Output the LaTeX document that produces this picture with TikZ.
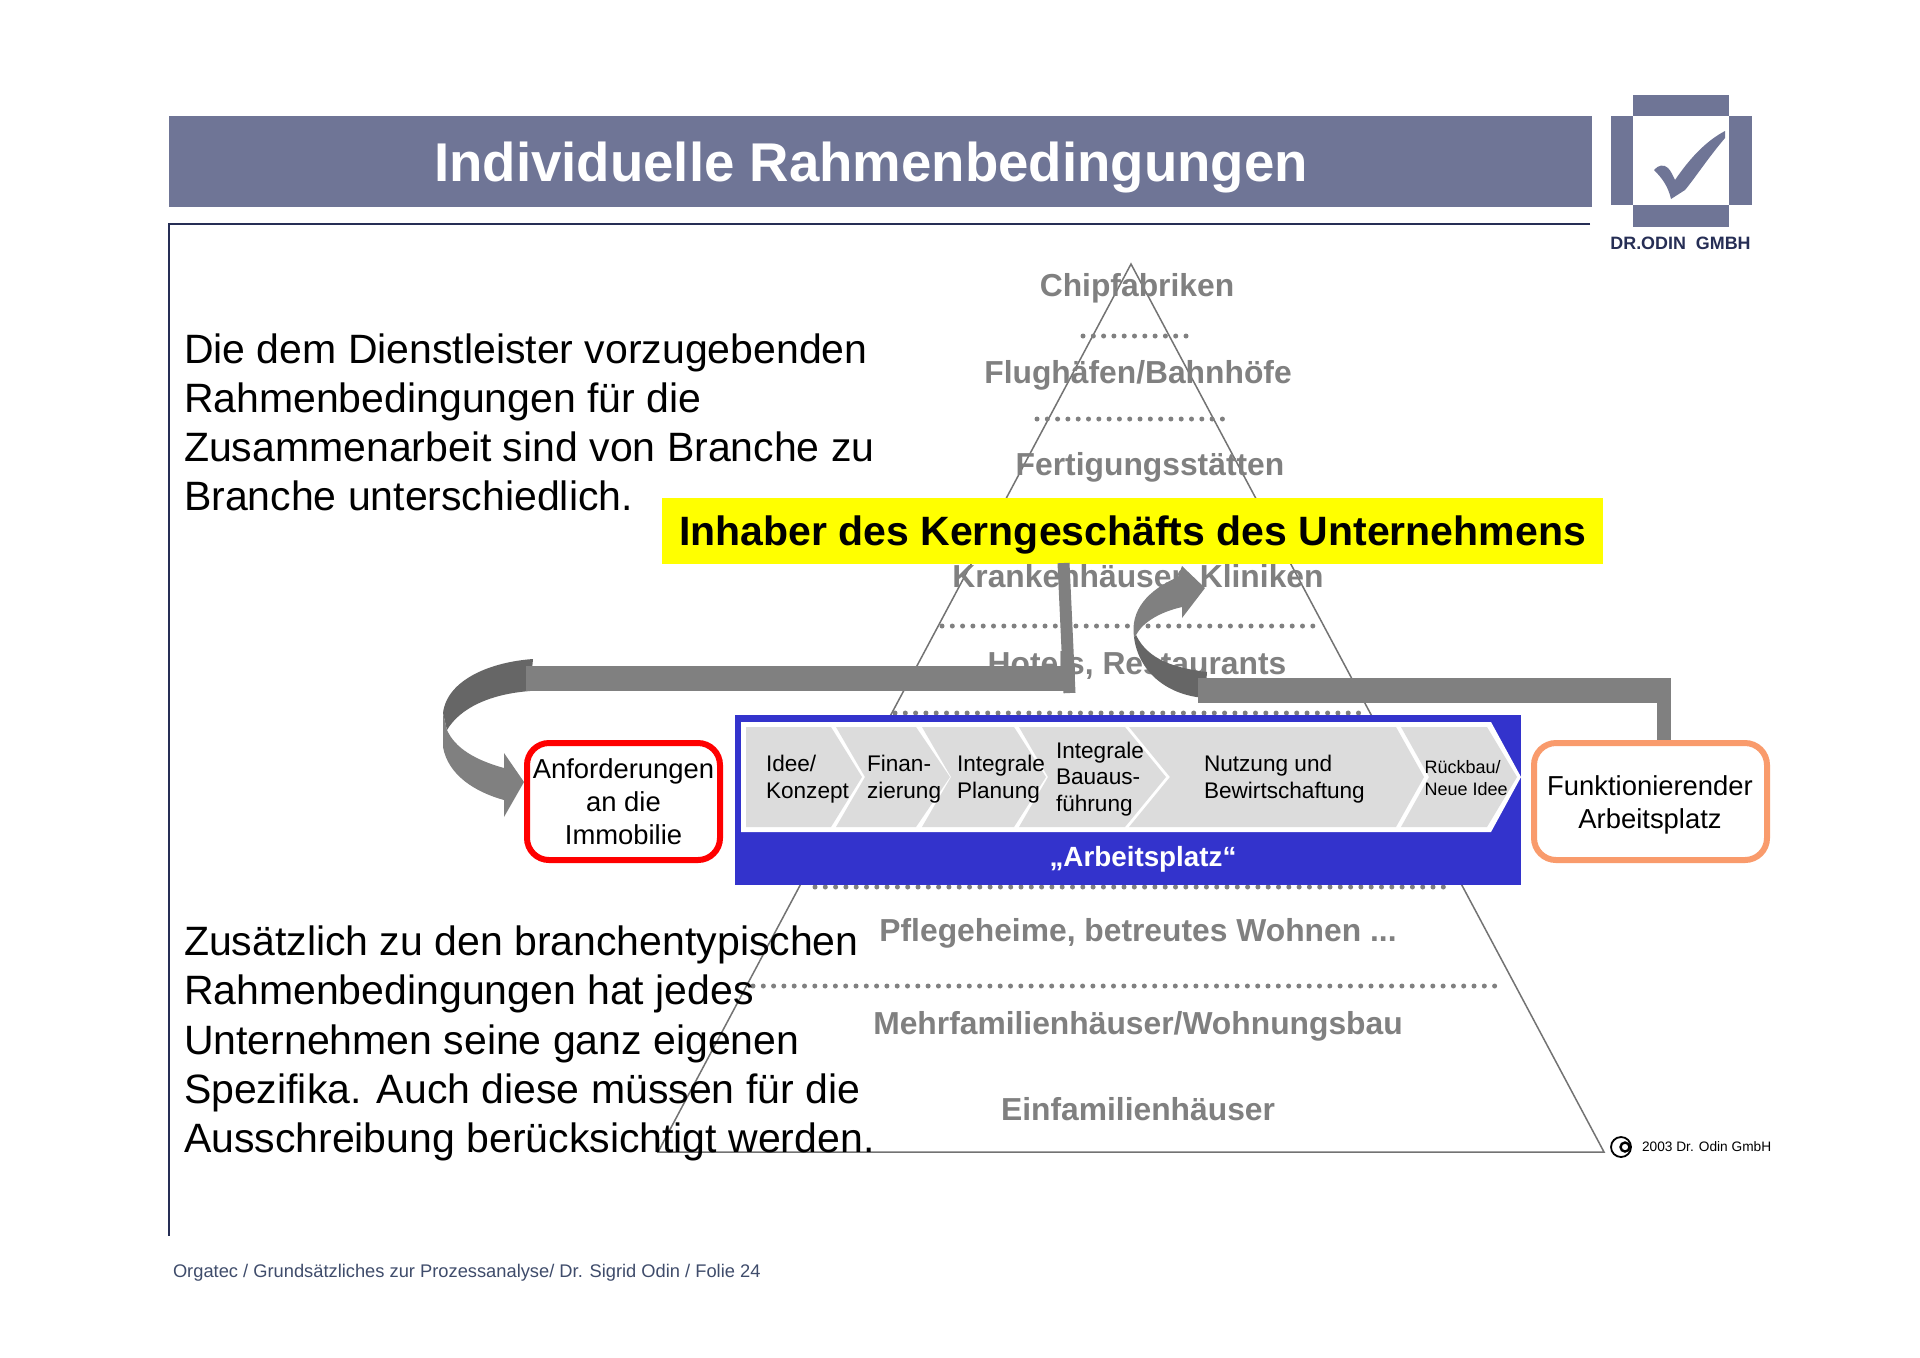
\documentclass[tikz,border=0pt]{standalone}
\usepackage{fontspec}
\setmainfont{Liberation Sans}
\definecolor{slate}{HTML}{6F7596}
\definecolor{navy}{HTML}{262E55}
\definecolor{foot}{HTML}{3F4C6B}
\definecolor{pyr}{HTML}{808080}
\definecolor{barg}{HTML}{808080}
\definecolor{chev}{HTML}{DCDCDC}
\definecolor{bandblue}{HTML}{3333CC}
\definecolor{orangeb}{HTML}{F99B6C}
\definecolor{redb}{HTML}{FF0000}
\definecolor{banner}{HTML}{FFFF00}
\tikzset{
  tx/.style={inner sep=0pt,outer sep=0pt},
  layer/.style={tx,text=pyr,font=\fontsize{15.9pt}{19pt}\bfseries\selectfont,anchor=center},
  para/.style={tx,anchor=west,align=left,font=\fontsize{20.5pt}{24.6pt}\selectfont},
  dots/.style={draw=pyr,line width=2.5pt,line cap=round,dash pattern=on 0pt off 5.15pt},
  chevron/.style={fill=chev,draw=none},
  steptext/.style={tx,anchor=west,align=left,font=\fontsize{11.3pt}{13.4pt}\selectfont},
  reqbox/.style={rounded corners=11pt,line width=3pt,fill=white,minimum width=96.5pt,minimum height=58.5pt,inner sep=0pt,align=center,font=\fontsize{13.7pt}{16.6pt}\selectfont},
  thickbar/.style={draw=barg,line cap=butt,line join=miter},
}
\begin{document}
\begin{tikzpicture}[x=0.5pt,y=-0.5pt]
\useasboundingbox[fill=white] (0,0) rectangle (1920,1357);
% title + frame
\node[fill=slate,minimum width=711.5pt,minimum height=45.5pt,inner sep=0pt,anchor=north west] (title) at (169,116) {};
\node[tx,text=white,font=\fontsize{27.3pt}{32pt}\bfseries\selectfont] (titletext) at (871,167) {Individuelle Rahmenbedingungen};
\coordinate (frameA) at (1590,224);
\coordinate (frameB) at (169,224);
\coordinate (frameC) at (169,1236);
\draw[navy,line width=0.6pt] (frameA)--(frameB)--(frameC);
% logo
\fill[slate] (1633,95) rectangle (1729,116);
\fill[slate] (1633,205) rectangle (1729,227);
\fill[slate] (1611,116) rectangle (1633,205);
\fill[slate] (1729,116) rectangle (1752,205);
\fill[slate] (1725,131) -- (1725,138) .. controls (1708,158) and (1695,178) .. (1685,190) -- (1671,199) .. controls (1668,186) and (1662,178) .. (1654,170) .. controls (1658,165) and (1664,164) .. (1668,168) .. controls (1671,171) and (1673,176) .. (1675,180) .. controls (1690,158) and (1706,141) .. (1725,131) -- cycle;
\node[tx,text=navy,font=\fontsize{8.95pt}{11pt}\bfseries\selectfont] (brand) at (1680.5,243.5) {DR.ODIN\hspace{2.5pt} GMBH};
% pyramid
\coordinate (apex) at (1131,264);
\coordinate (baseL) at (658,1152);
\coordinate (baseR) at (1604,1152);
\draw[draw=pyr!90!black,line width=0.75pt,line join=miter] (apex)--(baseR)--(baseL)--cycle;
\node[layer] (l1) at (1137,288.5) {Chipfabriken};
\node[layer] (l2) at (1138,375.5) {Flughäfen/Bahnhöfe};
\node[layer] (l3) at (1150,467.5) {Fertigungsstätten};
\node[layer] (l4) at (1138,578) {Krankenhäuser, Kliniken};
\node[layer] (l5) at (1137,665) {Hotels, Restaurants};
\node[layer] (l6) at (1138,933) {Pflegeheime, betreutes Wohnen ...};
\node[layer] (l7) at (1138,1026) {Mehrfamilienhäuser/Wohnungsbau};
\node[layer] (l8) at (1138,1109) {Einfamilienhäuser};
\coordinate (d1a) at (1083,336); \coordinate (d1b) at (1190,336);
\coordinate (d2a) at (1037,419); \coordinate (d2b) at (1226,419);
\coordinate (d3a) at (942,626);  \coordinate (d3b) at (1319,626);
\coordinate (d4a) at (895,713);  \coordinate (d4b) at (1366,713);
\coordinate (d5a) at (815,887);  \coordinate (d5b) at (1449,887);
\coordinate (d6a) at (753,986);  \coordinate (d6b) at (1503,986);
\draw[dots] (d1a)--(d1b);
\draw[dots] (d2a)--(d2b);
\draw[dots] (d3a)--(d3b);
\draw[dots] (d4a)--(d4b);
\draw[dots] (d5a)--(d5b);
\draw[dots] (d6a)--(d6b);
% paragraphs
\node[para] (p1) at (184,422.5) {Die dem Dienstleister vorzugebenden\\Rahmenbedingungen für die\\Zusammenarbeit sind von Branche zu\\Branche unterschiedlich.};
\node[para] (p2) at (184,1043.5) {Zusätzlich zu den branchentypischen\\Rahmenbedingungen hat jedes\\Unternehmen seine ganz eigenen\\Spezifika. Auch diese müssen für die\\Ausschreibung berücksichtigt werden.};
% blue band
\node[fill=bandblue,minimum width=393pt,minimum height=85pt,inner sep=0pt,anchor=north west] (band) at (735,715) {};
\fill[white] (741,722)--(1491,722)--(1521,777)--(1491,832)--(741,832)--cycle;
\fill[chevron] (746,727)--(831,727)--(862,777)--(831,827)--(746,827)--cycle;
\fill[chevron] (836,727)--(916,727)--(950,777)--(916,827)--(836,827)--(865,777)--cycle;
\fill[chevron] (922,727)--(1014,727)--(1046,777)--(1014,827)--(922,827)--(951,777)--cycle;
\fill[chevron] (1019,727)--(1125,727)--(1166,777)--(1125,827)--(1019,827)--(1048,777)--cycle;
\fill[chevron] (1129,727)--(1396,727)--(1424,777)--(1396,827)--(1129,827)--(1170,777)--cycle;
\fill[chevron] (1401,727)--(1487,727)--(1517,777)--(1487,827)--(1401,827)--(1429,777)--cycle;
\node[steptext] (s1) at (766,779) {Idee/\\Konzept};
\node[steptext] (s2) at (867,779) {Finan-\\zierung};
\node[steptext] (s3) at (957,779) {Integrale\\Planung};
\node[steptext] (s4) at (1056,779) {Integrale\\Bauaus-\\führung};
\node[steptext] (s5) at (1204,779) {Nutzung und\\Bewirtschaftung};
\node[steptext,font=\fontsize{9pt}{10.6pt}\selectfont] (s6) at (1424.5,778) {Rückbau/\\Neue Idee};
\node[tx,text=white,font=\fontsize{13.9pt}{16pt}\bfseries\selectfont] (bandlabel) at (1143,859) {„Arbeitsplatz“};
% boxes
\node[reqbox,draw=redb] (req) at (623.5,801.5) {Anforderungen\\an die\\Immobilie};
\node[reqbox,draw=orangeb,minimum width=116.5pt] (func) at (1650.5,801.5) {};
\node[tx,align=center,font=\fontsize{13.7pt}{16.6pt}\selectfont] (functext) at (1650,804.5) {Funktionierender\\Arbeitsplatz};
% yellow banner
\node[fill=banner,minimum width=470.5pt,minimum height=33pt,inner sep=0pt] (owner) at (1132.5,530.5) {};
\node[tx,font=\fontsize{20.5pt}{24pt}\bfseries\selectfont] (ownertext) at (1132.5,534.5) {Inhaber des Kerngeschäfts des Unternehmens};
% left curved arrow
\fill[color=black!60] (533,659) .. controls (490,662) and (447,680) .. (443,713) -- (447,730) .. controls (460,708) and (490,694) .. (530,691) -- cycle;
\fill[barg] (443,713) -- (443,747) .. controls (448,775) and (475,792) .. (504,800) -- (504,817) -- (524,782) -- (504,753) -- (504,768) .. controls (475,760) and (455,748) .. (447,730) -- cycle;
% right curved arrow
\fill[color=black!60] (1134,637) .. controls (1138,670) and (1165,695) .. (1205,698) -- (1207,672) .. controls (1175,668) and (1148,660) .. (1136,635) -- cycle;
\fill[barg] (1134,637) .. controls (1130,610) and (1148,590) .. (1178,577) -- (1182,566) -- (1205,588) -- (1182,618) -- (1182,607) .. controls (1160,612) and (1143,622) .. (1136,635) -- cycle;
% bars
\coordinate (barLa) at (526,678.5);
\coordinate (barLb) at (1075,678.5);
\coordinate (dropA) at (1063.5,563);
\coordinate (dropB) at (1069.5,693);
\coordinate (barRa) at (1198,690.5);
\coordinate (barRc) at (1670.5,690.5);
\coordinate (barRb) at (1664,690.5);
\draw[thickbar,line width=12.5pt] (barLa)--(barLb);
\draw[thickbar,line width=6pt] (dropA)--(dropB);
\draw[thickbar,line width=12.5pt] (barRa)--(barRc);
\draw[thickbar,line width=6.8pt] (barRb)--(func.north -| barRb);
% footer
\node[tx,anchor=base west,text=foot,font=\fontsize{9.15pt}{11pt}\selectfont] (footer) at (173,1277) {Orgatec / Grundsätzliches zur Prozessanalyse/ Dr. Sigrid Odin / Folie 24};
% copyright
\draw[black,line width=0.9pt] (1621,1147) circle (10);
\draw[black,line width=1.2pt] (1625,1147) circle (4.5);
\node[tx,anchor=base west,font=\fontsize{6.85pt}{9pt}\selectfont] (copy) at (1642,1151) {2003 Dr. Odin GmbH};
\end{tikzpicture}
\end{document}
